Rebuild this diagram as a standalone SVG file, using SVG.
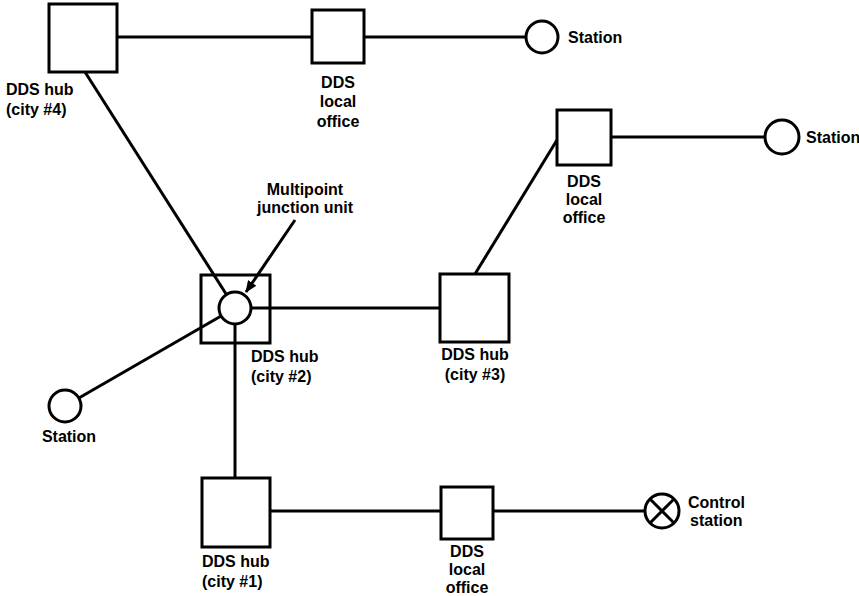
<svg xmlns="http://www.w3.org/2000/svg" width="859" height="596" viewBox="0 0 859 596">
<style>
.box{fill:#fff;stroke:#000;stroke-width:3}
.stn{fill:#fff;stroke:#000;stroke-width:3}
.ln{stroke:#000;stroke-width:3;fill:none}
text{font-family:"Liberation Sans",Arial,sans-serif;font-weight:bold;font-size:16px;fill:#000}
.c{text-anchor:middle}
</style>
<defs>
<marker id="ah" markerWidth="12" markerHeight="10" refX="11" refY="5" orient="auto" markerUnits="userSpaceOnUse">
<path d="M0,0 L12,5 L0,10 Z" fill="#000"/>
</marker>
</defs>
<rect width="859" height="596" fill="#fff"/>
<g id="hub4">
<rect class="box" x="49" y="4" width="68" height="68"/>
<text x="6" y="95">DDS hub</text>
<text x="6" y="115">(city #4)</text>
</g>
<g id="local1">
<rect class="box" x="312" y="10" width="52" height="53"/>
<text class="c" x="338" y="88">DDS</text>
<text class="c" x="338" y="107">local</text>
<text class="c" x="338" y="127">office</text>
</g>
<g id="station1">
<circle class="stn" cx="542" cy="37" r="16"/>
<text x="568" y="43">Station</text>
</g>
<g id="local2">
<rect class="box" x="557" y="110" width="54" height="55"/>
<text class="c" x="584" y="187">DDS</text>
<text class="c" x="584" y="205">local</text>
<text class="c" x="584" y="223">office</text>
</g>
<g id="station2">
<circle class="stn" cx="782" cy="137" r="17"/>
<text x="806" y="143">Station</text>
</g>
<g id="hub2">
<rect class="box" x="201" y="275" width="69" height="68"/>
<circle class="stn" cx="235" cy="308" r="16"/>
<text x="251" y="362">DDS hub</text>
<text x="251" y="382">(city #2)</text>
</g>
<g id="mju-label">
<text class="c" x="305" y="195">Multipoint</text>
<text class="c" x="305" y="213">junction unit</text>
</g>
<g id="hub3">
<rect class="box" x="440" y="274" width="69" height="68"/>
<text class="c" x="475" y="360">DDS hub</text>
<text class="c" x="475" y="380">(city #3)</text>
</g>
<g id="station3">
<circle class="stn" cx="65" cy="406" r="16"/>
<text class="c" x="69" y="442">Station</text>
</g>
<g id="hub1">
<rect class="box" x="202" y="478" width="68" height="69"/>
<text x="202" y="567">DDS hub</text>
<text x="202" y="587">(city #1)</text>
</g>
<g id="local3">
<rect class="box" x="441" y="487" width="52" height="52"/>
<text class="c" x="467" y="557">DDS</text>
<text class="c" x="467" y="575">local</text>
<text class="c" x="467" y="593">office</text>
</g>
<g id="control">
<circle class="stn" cx="662" cy="511" r="17"/>
<line class="ln" x1="650" y1="499" x2="674" y2="523"/>
<line class="ln" x1="674" y1="499" x2="650" y2="523"/>
<text x="688" y="508">Control</text>
<text x="690" y="526">station</text>
</g>
<g id="connectors">
<line class="ln" x1="117" y1="37" x2="312" y2="37"/>
<line class="ln" x1="364" y1="37" x2="526" y2="37"/>
<line class="ln" x1="85" y1="72" x2="226.4" y2="294.5"/>
<line class="ln" x1="78.9" y1="398" x2="221.1" y2="316"/>
<line class="ln" x1="251" y1="308" x2="440" y2="308"/>
<line class="ln" x1="235" y1="324" x2="235" y2="478"/>
<line class="ln" x1="475" y1="274" x2="557" y2="140"/>
<line class="ln" x1="611" y1="137" x2="765" y2="137"/>
<line class="ln" x1="270" y1="511" x2="441" y2="511"/>
<line class="ln" x1="493" y1="511" x2="645" y2="511"/>
<line class="ln" x1="295" y1="220" x2="246" y2="292" marker-end="url(#ah)"/>
</g>
</svg>
